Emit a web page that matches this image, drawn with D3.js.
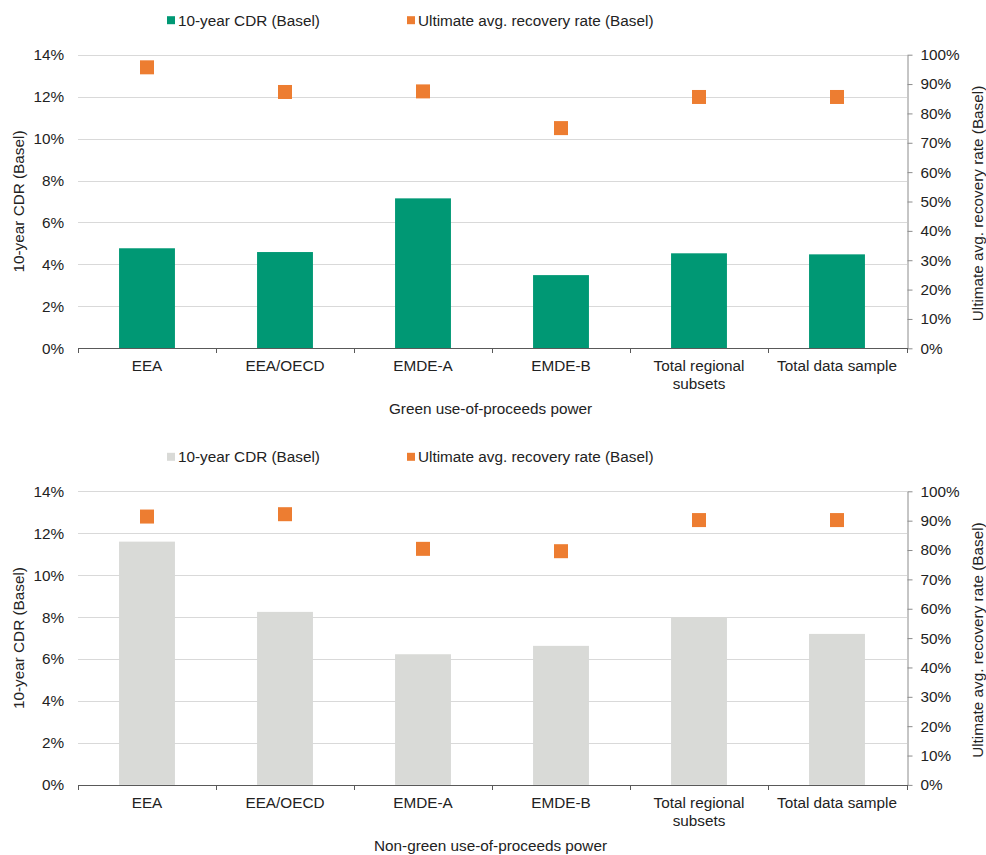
<!DOCTYPE html>
<html>
<head>
<meta charset="utf-8">
<script src="https://cdn.jsdelivr.net/npm/d3@7"></script>
<style>
  html, body { margin: 0; padding: 0; background: #ffffff; }
  svg { display: block; font-family: "Liberation Sans", Arial, sans-serif; }
</style>
</head>
<body>
<svg id="chart" width="986" height="855"></svg>
<script>
// Regions on the category axis
const categories = ["EEA", "EEA/OECD", "EMDE-A", "EMDE-B", "Total regional subsets", "Total data sample"];

// Green use-of-proceeds power
const greenCdr = [4.77, 4.59, 7.15, 3.49, 4.53, 4.48];          // 10-year CDR, %
const greenRecovery = [95.7, 87.3, 87.5, 75.0, 85.6, 85.6];     // recovery rate, %

// Non-green use-of-proceeds power
const nonGreenCdr = [11.6, 8.25, 6.23, 6.63, 7.99, 7.2];
const nonGreenRecovery = [91.4, 92.2, 80.4, 79.6, 90.2, 90.2];

// Axis ticks
const cdrTicks = [0, 2, 4, 6, 8, 10, 12, 14];
const recoveryTicks = [0, 10, 20, 30, 40, 50, 60, 70, 80, 90, 100];

const FS = 15.3;
const TEXT = "#222222";
const svg = d3.select("#chart");
const left = 78, right = 907;

function wrapLabel(textSel, width) {
  textSel.each(function () {
    const text = d3.select(this);
    const words = text.text().split(/\s+/);
    const y = text.attr("y");
    const dy = parseFloat(text.attr("dy")) || 0;
    text.text(null);
    let line = [];
    let lineNo = 0;
    let tspan = text.append("tspan").attr("x", 0).attr("y", y).attr("dy", dy + "em");
    for (const w of words) {
      line.push(w);
      tspan.text(line.join(" "));
      if (tspan.node().getComputedTextLength() > width && line.length > 1) {
        line.pop();
        tspan.text(line.join(" "));
        line = [w];
        lineNo++;
        tspan = text.append("tspan").attr("x", 0).attr("y", y)
          .attr("dy", (dy + lineNo * 1.18) + "em").text(w);
      }
    }
  });
}

function drawPanel(cfg) {
  const top = cfg.top, bottom = cfg.top + 293.6;
  const g = svg.append("g");

  const x = d3.scaleBand().domain(categories).range([left, right - 1]).paddingInner(0);
  const yL = d3.scaleLinear().domain([0, 14]).range([bottom, top]);
  const yR = d3.scaleLinear().domain([0, 100]).range([bottom, top]);

  // Horizontal gridlines
  g.append("g").selectAll("line").data(cdrTicks.slice(1)).join("line")
    .attr("x1", left).attr("x2", right)
    .attr("y1", d => Math.round(yL(d)) + 0.5).attr("y2", d => Math.round(yL(d)) + 0.5)
    .attr("stroke", "#d9d9d9").attr("stroke-width", 1);

  // Bars
  const barW = x.bandwidth() * 0.405;
  g.append("g").selectAll("rect").data(cfg.cdr).join("rect")
    .attr("x", (d, i) => x(categories[i]) + (x.bandwidth() - barW) / 2)
    .attr("y", d => yL(d))
    .attr("width", barW)
    .attr("height", d => bottom - yL(d))
    .attr("fill", cfg.barColor);

  // Recovery markers
  const ms = 14;
  g.append("g").selectAll("rect").data(cfg.recovery).join("rect")
    .attr("x", (d, i) => x(categories[i]) + x.bandwidth() / 2 - ms / 2)
    .attr("y", d => yR(d) - ms / 2)
    .attr("width", ms).attr("height", ms)
    .attr("fill", "#ed7d31");

  // Left axis labels
  const leftAxis = d3.axisLeft(yL).tickValues(cdrTicks).tickFormat(d => d + "%").tickSize(0).tickPadding(14);
  const la = g.append("g").attr("transform", `translate(${left},0)`).call(leftAxis);
  la.select(".domain").remove();
  la.selectAll("text").attr("font-size", FS).attr("fill", TEXT).attr("font-family", "Liberation Sans, Arial, sans-serif");

  // Right axis
  const rightAxis = d3.axisRight(yR).tickValues(recoveryTicks).tickFormat(d => d + "%").tickSize(5).tickSizeOuter(0).tickPadding(8);
  const ra = g.append("g").attr("transform", `translate(${right + 0.5},0)`).call(rightAxis);
  ra.select(".domain").attr("stroke", "#8c8c8c");
  ra.selectAll(".tick line").attr("stroke", "#8c8c8c");
  ra.selectAll("text").attr("font-size", FS).attr("fill", TEXT).attr("font-family", "Liberation Sans, Arial, sans-serif");

  // Category axis
  const bottomAxis = d3.axisBottom(x).tickSize(0).tickPadding(12);
  const ba = g.append("g").attr("transform", `translate(0,${Math.round(bottom) + 0.5})`).call(bottomAxis);
  ba.select(".domain").remove();
  ba.selectAll("text").attr("font-size", FS).attr("fill", TEXT)
    .attr("font-family", "Liberation Sans, Arial, sans-serif")
    .call(wrapLabel, x.bandwidth() - 12);
  const bnds = categories.map(c => x(c)).concat([right]);
  const ag = g.append("g").attr("stroke", "#595959");
  ag.append("line").attr("x1", left).attr("x2", right)
    .attr("y1", Math.round(bottom) + 0.5).attr("y2", Math.round(bottom) + 0.5);
  ag.selectAll(".ct").data(bnds).join("line").attr("class", "ct")
    .attr("x1", d => Math.round(d) + 0.5).attr("x2", d => Math.round(d) + 0.5)
    .attr("y1", Math.round(bottom)).attr("y2", Math.round(bottom) + 5);

  // Axis titles
  g.append("text")
    .attr("transform", `translate(24,${(top + bottom) / 2}) rotate(-90)`)
    .attr("text-anchor", "middle").attr("font-size", FS).attr("fill", TEXT)
    .text("10-year CDR (Basel)");
  g.append("text")
    .attr("transform", `translate(983,${(top + bottom) / 2 + 2}) rotate(-90)`)
    .attr("text-anchor", "middle").attr("font-size", FS).attr("fill", TEXT)
    .text("Ultimate avg. recovery rate (Basel)");
  g.append("text")
    .attr("x", (left + right) / 2 - 2).attr("y", bottom + 66)
    .attr("text-anchor", "middle").attr("font-size", FS).attr("fill", TEXT)
    .text(cfg.title);

  // Legend
  const lg = g.append("g").attr("transform", `translate(0,${top - 34.5})`);
  const items = [
    { label: "10-year CDR (Basel)", color: cfg.barColor, x: 167 },
    { label: "Ultimate avg. recovery rate (Basel)", color: "#ed7d31", x: 407 }
  ];
  items.forEach(it => {
    lg.append("rect").attr("x", it.x).attr("y", -4).attr("width", 8).attr("height", 8).attr("fill", it.color);
    lg.append("text").attr("x", it.x + 11).attr("y", 5.5).attr("font-size", FS).attr("fill", TEXT).text(it.label);
  });
}

drawPanel({ top: 54.7, cdr: greenCdr, recovery: greenRecovery, barColor: "#009874", title: "Green use-of-proceeds power" });
drawPanel({ top: 491.3, cdr: nonGreenCdr, recovery: nonGreenRecovery, barColor: "#d9dad7", title: "Non-green use-of-proceeds power" });
</script>
</body>
</html>
